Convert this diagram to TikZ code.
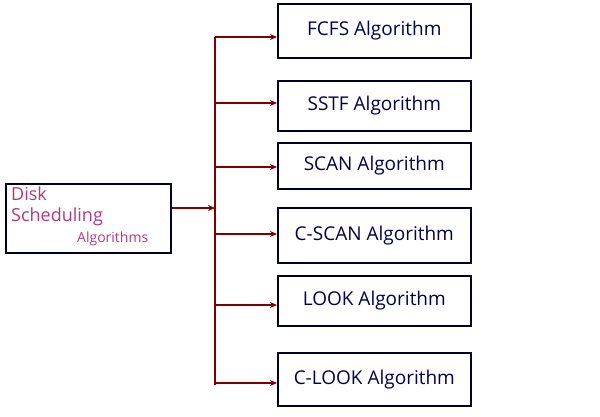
\documentclass[tikz,border=0pt]{standalone}
\usepackage{fontspec}
\usetikzlibrary{arrows.meta}
\setmainfont{Open Sans}
\begin{document}
\begin{tikzpicture}[x=1pt,y=-1pt,
  box/.style={draw=black!85!blue,line width=1.6pt,fill=white,minimum width=193pt,text=blue!30!black,font=\fontsize{19}{22}\selectfont,anchor=north west,inner sep=0pt},
  arr/.style={draw=red!50!black,line width=1.1pt,->,>={Stealth[length=7pt,width=6pt]}}]
\useasboundingbox (0,0) rectangle (600,416);
\node[box,minimum height=54pt] (a) at (277,3) {FCFS Algorithm};
\node[box,minimum height=50pt] (b) at (277,80) {SSTF Algorithm};
\node[box,minimum height=46pt] (c) at (277,142) {SCAN Algorithm};
\node[box,minimum height=55pt] (d) at (277,207) {C-SCAN Algorithm};
\node[box,minimum height=50pt] (e) at (277,275) {LOOK Algorithm};
\node[box,minimum height=53pt] (f) at (277,352) {C-LOOK Algorithm};
\node[draw=black!85!blue,line width=1.6pt,minimum width=165pt,minimum height=69pt,anchor=north west] (s) at (5,183) {};
\node[text=magenta!70!black,font=\fontsize{18}{21}\selectfont,align=left,anchor=north west,inner sep=0pt] (t) at (11,187) {Disk\\Scheduling\\\hspace*{66pt}\fontsize{14}{16}\selectfont Algorithms};
\coordinate (j) at (215,208);
\coordinate (top) at (215,37);
\coordinate (bot) at (215,385);
\draw[red!50!black,line width=1.1pt] (top) -- (bot);
\draw[arr] (s.east|-j) -- (j);
\foreach \n/\y in {a/37,b/103,c/167,d/234,e/305,f/383}
  \draw[arr] (215,\y) -- (\n.west|-0,\y);
\end{tikzpicture}
\end{document}
